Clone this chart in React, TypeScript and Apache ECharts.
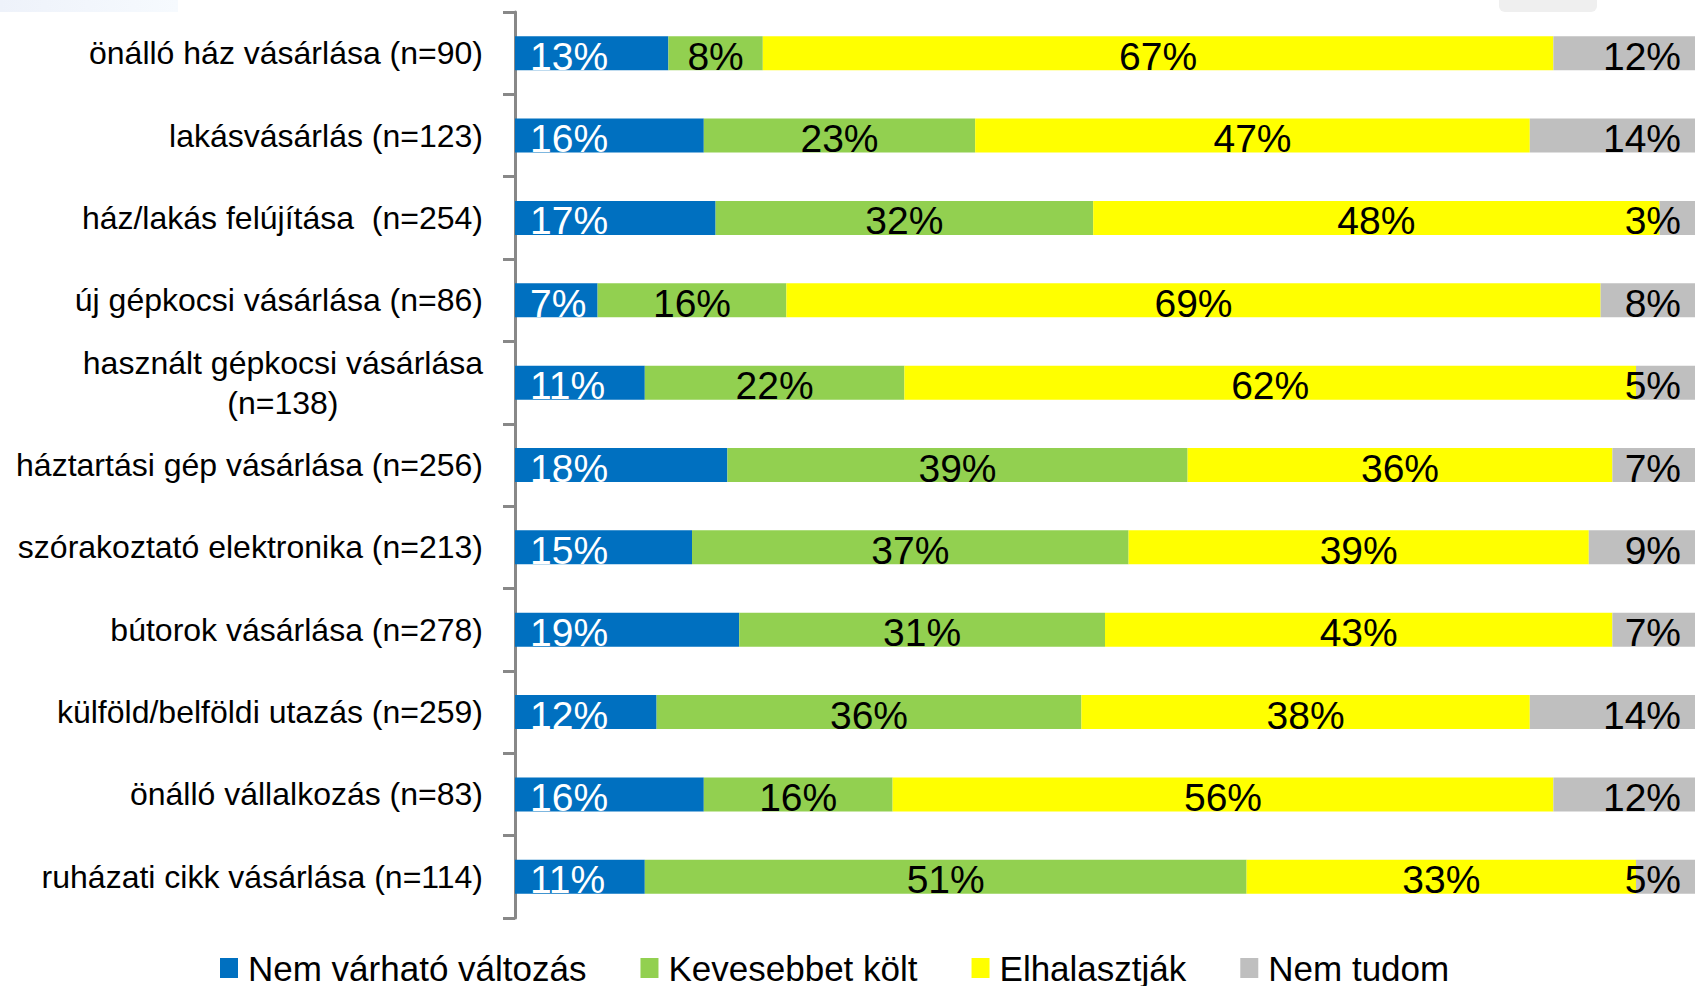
import React, { useEffect, useRef } from "react";
import * as echarts from "echarts";

const categories = [
  "önálló ház vásárlása (n=90)",
  "lakásvásárlás (n=123)",
  "ház/lakás felújítása  (n=254)",
  "új gépkocsi vásárlása (n=86)",
  "használt gépkocsi vásárlása\n(n=138)",
  "háztartási gép vásárlása (n=256)",
  "szórakoztató elektronika (n=213)",
  "bútorok vásárlása (n=278)",
  "külföld/belföldi utazás (n=259)",
  "önálló vállalkozás (n=83)",
  "ruházati cikk vásárlása (n=114)",
];

const seriesNames = ["Nem várható változás", "Kevesebbet költ", "Elhalasztják", "Nem tudom"];

const nemVarhato = [13, 16, 17, 7, 11, 18, 15, 19, 12, 16, 11];
const kevesebbet = [8, 23, 32, 16, 22, 39, 37, 31, 36, 16, 51];
const elhalasztjak = [67, 47, 48, 69, 62, 36, 39, 43, 38, 56, 33];
const nemTudom = [12, 14, 3, 8, 5, 7, 9, 7, 14, 12, 5];

const colors = ["#0070C0", "#92D050", "#FFFF00", "#BFBFBF"];

const FONT = "'Liberation Sans', Arial, sans-serif";

export default function App() {
  const ref = useRef<HTMLDivElement>(null);

  useEffect(() => {
    if (!ref.current) return;
    const chart = echarts.init(ref.current, null, { renderer: "svg" });

    const dataSets = [nemVarhato, kevesebbet, elhalasztjak, nemTudom];
    const labelConf = [
      { position: "insideLeft", distance: 15, color: "#FFFFFF" },
      { position: "inside", distance: 0, color: "#000000" },
      { position: "inside", distance: 0, color: "#000000" },
      { position: "insideRight", distance: 14, color: "#000000" },
    ];

    const series = dataSets.map((d, i) => ({
      name: seriesNames[i],
      type: "bar",
      stack: "total",
      barWidth: 34,
      data: d,
      itemStyle: { color: colors[i] },
      label: {
        show: true,
        position: labelConf[i].position,
        distance: labelConf[i].distance,
        color: labelConf[i].color,
        fontFamily: FONT,
        fontSize: 39,
        offset: [0, 3],
        formatter: "{c}%",
      },
      emphasis: { disabled: true },
    }));

    chart.setOption({
      animation: false,
      backgroundColor: "#FFFFFF",
      textStyle: { fontFamily: FONT },
      graphic: [
        {
          type: "rect",
          shape: { x: 0, y: 0, width: 178, height: 12 },
          style: {
            fill: new echarts.graphic.LinearGradient(0, 0, 1, 0, [
              { offset: 0, color: "#EEF2FA" },
              { offset: 1, color: "#F6FAFE" },
            ]),
          },
          silent: true,
        },
        {
          type: "rect",
          shape: { x: 1499, y: -10, width: 98, height: 22, r: 6 },
          style: { fill: "#EFEFEF" },
          silent: true,
        },
      ],
      grid: { left: 515, right: 0, top: 12, bottom: 68, containLabel: false },
      xAxis: {
        type: "value",
        min: 0,
        max: 100,
        show: false,
      },
      yAxis: {
        type: "category",
        inverse: true,
        data: categories,
        axisLine: { show: true, lineStyle: { color: "#888888", width: 3 } },
        axisTick: { show: true, length: 12, lineStyle: { color: "#888888", width: 3 } },
        axisLabel: {
          color: "#000000",
          fontFamily: FONT,
          fontSize: 32,
          margin: 32,
          lineHeight: 40,
          formatter: (v: string) => {
            if (v.indexOf("\n") >= 0) {
              return v
                .split("\n")
                .map((s) => `{c|${s}}`)
                .join("\n");
            }
            return v;
          },
          rich: {
            c: { align: "center", fontSize: 32, lineHeight: 40, color: "#000000", fontFamily: FONT },
          },
        },
        splitLine: { show: false },
      },
      legend: {
        left: 215,
        top: 944,
        itemWidth: 18,
        itemHeight: 20,
        itemGap: 54,
        icon: "rect",
        data: seriesNames,
        textStyle: {
          fontFamily: FONT,
          fontSize: 35,
          color: "#000000",
          padding: [0, 0, 0, 5],
          lineHeight: 38,
        },
        selectedMode: false,
      },
      series,
    });

    return () => chart.dispose();
  }, []);

  return (
    <div
      ref={ref}
      style={{ position: "absolute", left: 0, top: 0, width: 1695, height: 986, background: "#fff" }}
    />
  );
}
